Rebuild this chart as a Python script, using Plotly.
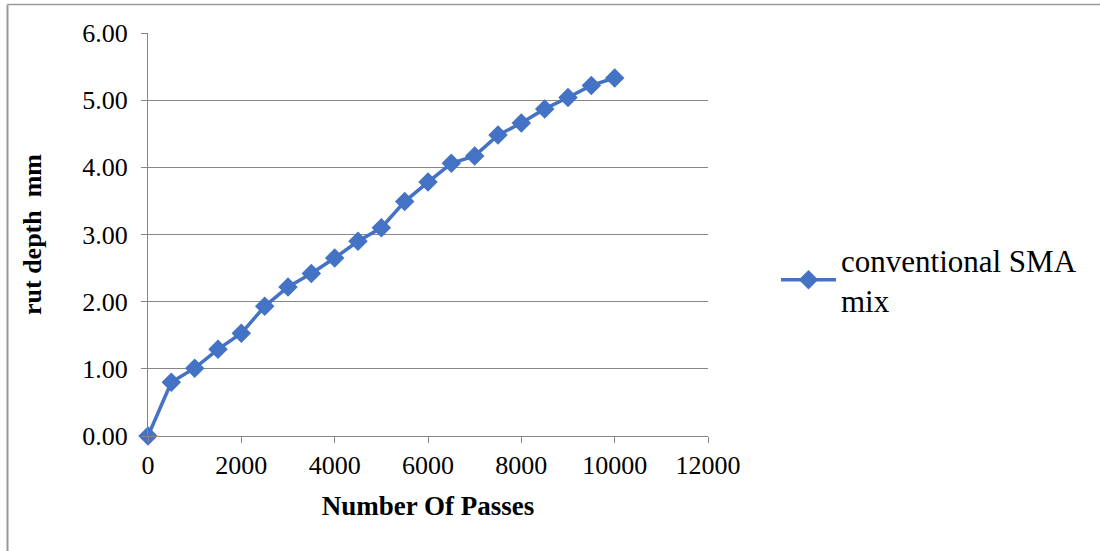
import plotly.graph_objects as go

passes = [0, 500, 1000, 1500, 2000, 2500, 3000, 3500, 4000, 4500, 5000,
          5500, 6000, 6500, 7000, 7500, 8000, 8500, 9000, 9500, 10000]
rut_depth = [0.00, 0.80, 1.01, 1.29, 1.53, 1.93, 2.22, 2.42, 2.65, 2.90, 3.10,
             3.49, 3.78, 4.06, 4.17, 4.48, 4.66, 4.87, 5.04, 5.22, 5.33]
series_name = "conventional SMA<br>mix"
y_ticks = [0, 1, 2, 3, 4, 5, 6]
y_tick_text = ["0.00", "1.00", "2.00", "3.00", "4.00", "5.00", "6.00"]
x_ticks = [0, 2000, 4000, 6000, 8000, 10000, 12000]
x_tick_text = ["0", "2000", "4000", "6000", "8000", "10000", "12000"]

W, H = 1100, 551
L, R, T, B = 148, 708, 33, 436
pw, ph = R - L, B - T

def px(x):
    return (x - L) / pw

def py(y):
    return (B - y) / ph

blue = "#4472C4"
grid = "#868686"
font_family = "Liberation Serif, Times New Roman, serif"

fig = go.Figure()
fig.add_trace(go.Scatter(
    x=passes, y=rut_depth, name=series_name, mode="lines+markers",
    line=dict(color=blue, width=3.5),
    marker=dict(symbol="diamond", size=15, color=blue),
    cliponaxis=False,
))

fig.update_layout(
    width=W, height=H,
    margin=dict(l=L, r=W - R, t=T, b=H - B),
    paper_bgcolor="white", plot_bgcolor="white",
    font=dict(family=font_family, color="black", size=26),
    showlegend=True,
    legend=dict(x=px(776), y=py(233), xanchor="left", yanchor="top",
                font=dict(size=31, family=font_family, color="black"),
                bgcolor="rgba(0,0,0,0)", itemwidth=55),
    xaxis=dict(range=[0, 12000], tickvals=x_ticks, ticktext=x_tick_text,
               showgrid=False,
               showline=True, linecolor=grid, linewidth=1,
               ticks="outside", ticklen=6, tickcolor=grid,
               tickfont=dict(size=26), zeroline=False,
               title=dict(text="<b>Number Of Passes</b>", font=dict(size=27), standoff=16)),
    yaxis=dict(range=[0, 6], tickvals=y_ticks, ticktext=y_tick_text,
               showgrid=True, gridcolor=grid, gridwidth=1,
               showline=True, linecolor=grid, linewidth=1,
               ticks="outside", ticklen=6, tickcolor=grid,
               tickfont=dict(size=26), zeroline=False, ticklabelstandoff=8,
               title=dict(text="<b>rut depth&nbsp;&nbsp;mm</b>", font=dict(size=26), standoff=33)),
    shapes=[
        dict(type="line", xref="paper", yref="paper",
             x0=px(7.5), x1=px(1110), y0=py(4.5), y1=py(4.5),
             line=dict(color="#9a9a9a", width=1.5)),
        dict(type="line", xref="paper", yref="paper",
             x0=px(7.5), x1=px(7.5), y0=py(4.5), y1=py(560),
             line=dict(color="#9a9a9a", width=2)),
    ],
)

fig.write_html("out.html")
